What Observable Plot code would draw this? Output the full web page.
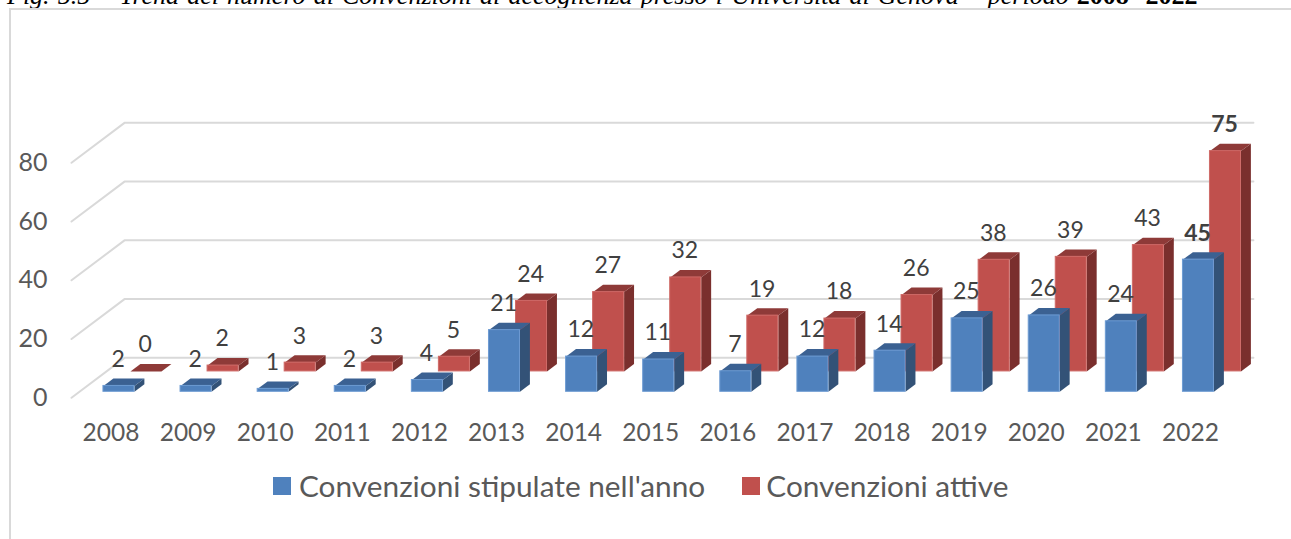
<!DOCTYPE html>
<html>
<head>
<meta charset="utf-8">
<script src="https://cdn.jsdelivr.net/npm/d3@7"></script>
<script src="https://cdn.jsdelivr.net/npm/@observablehq/plot@0.6"></script>
<style>
  html, body { margin: 0; padding: 0; background: #fff; overflow: hidden; }
  body { position: relative; width: 1291px; height: 539px; }
  #title { height: 10px; overflow: hidden; position: relative; }
  #title span { position: absolute; left: 7px; bottom: 1px; white-space: nowrap;
    font: italic 26px/26px "Liberation Serif", serif; color: #000; word-spacing: 1.6px; }
  #title b { font-style: normal; }
  #frame { position: absolute; left: 9px; top: 8px; right: -4px; bottom: -4px;
    border-left: 2px solid #d9d9d9; border-top: 2px solid #d9d9d9; pointer-events: none; }
  #chart svg { display: block; }
  #legend { display: flex; align-items: center; padding: 16px 0 0 273px;
    font: 29.8px/40px Lato, sans-serif; color: #595959; }
  #legend i { width: 18px; height: 18px; display: inline-block; margin-right: 8px; }
  #legend span { display: inline-flex; align-items: center; }
  #legend span + span { margin-left: 37px; }
  #legend span + span i { margin-right: 6px; }
</style>
</head>
<body>
<div id="title"><span>Fig. 5.5 – Trend del numero di Convenzioni di accoglienza presso l’Università di Genova – periodo <b>2008- 2022</b></span></div>
<div id="frame"></div>
<div id="chart"></div>
<div id="legend"></div>
<script>
const years = [2008,2009,2010,2011,2012,2013,2014,2015,2016,2017,2018,2019,2020,2021,2022];
const stipulate = [2,2,1,2,4,21,12,11,7,12,14,25,26,24,45];
const attive = [0,2,3,3,5,24,27,32,19,18,26,38,39,43,75];
const gridTicks = [0,20,40,60,80];
const boldYears = [2022];
const seriesNames = ["Convenzioni stipulate nell'anno","Convenzioni attive"];
const seriesColors = {
  blue: {front:"#4f81bd", side:"#335277", top:"#3b6192", edge:"#6d9bd3"},
  red:  {front:"#c0504d", side:"#7a2f2d", top:"#8e3a38", edge:"#cf6a67"}
};

// oblique projection: depth 0 = front of floor, 1 = back wall
const skewX = 0.687, skewY = 13.6;
const barW = 0.402, barD = 0.1875, labelLift = 9.0, labelDx = 0.19;
const depthBlue = 0.15, depthRed = 0.66;
const P = (u, v, d) => ({x: u + d * skewX, y: v + d * skewY});

function faces(values, depth) {
  const out = {front: [], side: [], top: [], label: []};
  values.forEach((v, i) => {
    const d0 = depth, d1 = depth + barD;
    const a = P(i, 0, d0), b = P(i, v, d0);
    out.front.push({x1: a.x, x2: a.x + barW, y1: a.y, y2: b.y, v});
    [P(i+barW,0,d0),P(i+barW,v,d0),P(i+barW,v,d1),P(i+barW,0,d1)].forEach(p => out.side.push({...p, id: i}));
    [P(i,v,d0),P(i+barW,v,d0),P(i+barW,v,d1),P(i,v,d1)].forEach(p => out.top.push({...p, id: i}));
    out.label.push({x: b.x + labelDx, y: b.y + labelLift, v, year: years[i]});
  });
  return out;
}
const blue = faces(stipulate, depthBlue);
const red = faces(attive, depthRed);

const grid = gridTicks.flatMap(t => [
  {...P(-0.311, t, 0), t}, {...P(-0.311, t, 1), t}, {...P(14.33, t, 1), t}
]);

function barMarks(f, c) {
  return [
    Plot.line(f.side, {x:"x", y:"y", z:"id", fill:c.side, stroke:"none", curve:"linear"}),
    Plot.line(f.top, {x:"x", y:"y", z:"id", fill:c.top, stroke:"none", curve:"linear"}),
    Plot.rect(f.front.filter(d => d.v > 0), {x1:"x1", x2:"x2", y1:"y1", y2:"y2", fill:c.front, stroke:c.edge, strokeWidth:1})
  ];
}
function labelMarks(f) {
  const base = {x:"x", y:"y", text:"v", fontSize:23, fill:"#404040"};
  return [
    Plot.text(f.label.filter(d => !boldYears.includes(d.year)), base),
    Plot.text(f.label.filter(d => boldYears.includes(d.year)), {...base, fontWeight:"bold"})
  ];
}

const plot = Plot.plot({
  width: 1291, height: 440,
  marginLeft: 50, marginRight: 0, marginTop: 0, marginBottom: 40,
  style: {fontFamily: "Lato, sans-serif", background: "transparent", overflow: "visible"},
  x: {type:"linear", domain:[0,14], range:[95,1174.5]},
  y: {type:"linear", domain:[0,80], range:[387.3,152.3]},
  marks: [
    Plot.line(grid, {x:"x", y:"y", z:"t", stroke:"#d9d9d9", strokeWidth:2}),
    ...barMarks(red, seriesColors.red),
    ...barMarks(blue, seriesColors.blue),
    ...labelMarks(red),
    ...labelMarks(blue),
    Plot.axisY({ticks:gridTicks, tickSize:0, tickPadding:3, fontSize:25, color:"#595959", label:null, anchor:"left"}),
    Plot.axisX({ticks:d3.range(years.length), tickFormat:i => String(years[i]), tickSize:0, tickPadding:13, dx:15.5, fontSize:24.5, color:"#595959", label:null, anchor:"bottom"})
  ]
});
document.getElementById("chart").append(plot);

const legend = document.getElementById("legend");
[seriesColors.blue, seriesColors.red].forEach((c, i) => {
  const s = document.createElement("span");
  const sw = document.createElement("i");
  sw.style.background = c.front;
  s.append(sw, seriesNames[i]);
  legend.append(s);
});
</script>
</body>
</html>
